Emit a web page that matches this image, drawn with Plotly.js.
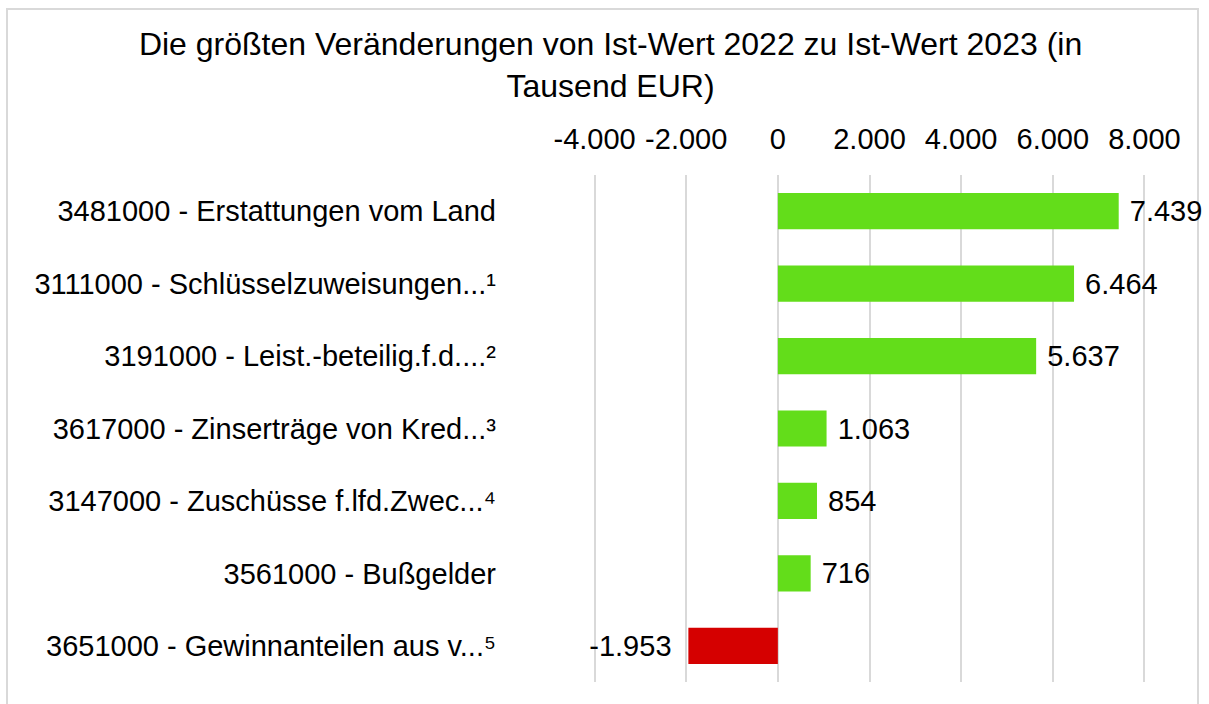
<!DOCTYPE html>
<html>
<head>
<meta charset="utf-8">
<script src="https://cdn.plot.ly/plotly-3.0.1.min.js"></script>
<style>
  html, body { margin: 0; padding: 0; background: #fff; }
  #frame { position: absolute; left: 6px; top: 8px; width: 1193px; height: 710px; border: 2px solid #d9d9d9; box-sizing: border-box; }
  #chart { position: absolute; left: 0; top: 0; width: 1209px; height: 704px; }
</style>
</head>
<body>
<div id="frame"></div>
<div id="chart"></div>
<script>
const categories = [
  "3481000 - Erstattungen vom Land",
  "3111000 - Schlüsselzuweisungen...¹",
  "3191000 - Leist.-beteilig.f.d....²",
  "3617000 - Zinserträge von Kred...³",
  "3147000 - Zuschüsse f.lfd.Zwec...⁴",
  "3561000 - Bußgelder",
  "3651000 - Gewinnanteilen aus v...⁵"
];
const values = [7439, 6464, 5637, 1063, 854, 716, -1953];
const tickValues = [-4000, -2000, 0, 2000, 4000, 6000, 8000];
const tickLabels = ["-4.000", "-2.000", "0", "2.000", "4.000", "6.000", "8.000"];
const titleText = "Die größten Veränderungen von Ist-Wert 2022 zu Ist-Wert 2023 (in<br>Tausend EUR)";

const positiveColor = "#63dd1a";
const negativeColor = "#d50000";

function fmt(v) {
  const s = String(Math.abs(v)).replace(/\B(?=(\d{3})+(?!\d))/g, ".");
  return (v < 0 ? "-" : "") + s;
}

const font = "Liberation Sans, Arial, sans-serif";
const fs = 29;

const trace = {
  type: "bar",
  orientation: "h",
  y: categories,
  x: values,
  marker: { color: values.map(v => v < 0 ? negativeColor : positiveColor) },
  text: values.map(v => v < 0 ? fmt(v) + " \u2009" : " " + fmt(v)),
  textposition: "outside",
  textfont: { family: font, size: fs, color: "#000" },
  cliponaxis: false,
  hoverinfo: "none",
  width: 0.5
};

const layout = {
  width: 1209,
  height: 704,
  margin: { l: 590.4, r: 60.4, t: 175, b: 22 },
  paper_bgcolor: "rgba(0,0,0,0)",
  plot_bgcolor: "rgba(0,0,0,0)",
  font: { family: font, size: fs, color: "#000" },
  title: {
    text: titleText,
    font: { family: font, size: 32, color: "#000" },
    xref: "container", x: 0.505, xanchor: "center",
    yref: "container", y: 1 - 55 / 704, yanchor: "top"
  },
  showlegend: false,
  bargap: 0.5,
  xaxis: {
    side: "top",
    range: [-4100, 8100],
    tickvals: tickValues,
    ticktext: tickLabels,
    showgrid: true,
    gridcolor: "#d9d9d9",
    gridwidth: 2,
    zeroline: false,
    showline: false,
    ticks: "",
    ticklabelstandoff: 19,
    tickfont: { family: font, size: fs, color: "#000" },
    fixedrange: true
  },
  yaxis: {
    type: "category",
    autorange: "reversed",
    showgrid: false,
    zeroline: false,
    showline: false,
    ticks: "",
    ticklabelstandoff: 93,
    tickfont: { family: font, size: fs, color: "#000" },
    fixedrange: true
  }
};

Plotly.newPlot("chart", [trace], layout, { displayModeBar: false, staticPlot: true });
</script>
</body>
</html>
